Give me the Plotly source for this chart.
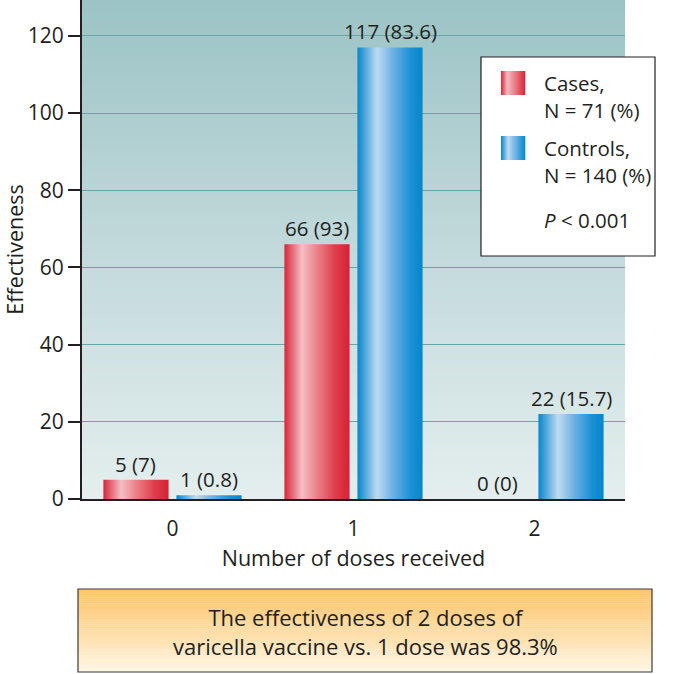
import plotly.graph_objects as go

# ---------------- data ----------------
doses = ["0", "1", "2"]
cases_n = [5, 66, 0]
cases_pct = ["7", "93", "0"]
controls_n = [1, 117, 22]
controls_pct = ["0.8", "83.6", "15.7"]
y_ticks = [0, 20, 40, 60, 80, 100, 120]
legend_cases = ["Cases,", "N = 71 (%)"]
legend_controls = ["Controls,", "N = 140 (%)"]
p_text = "<i>P</i> < 0.001"
note_lines = ["The effectiveness of 2 doses of", "varicella vaccine vs. 1 dose was 98.3%"]

# ---------------- style ----------------
FONT = "Open Sans"
TXT = "#231f20"
W, H = 680, 674
ML, MR, MT, MB = 82, 55, 0, 175
PW, PH = W - ML - MR, H - MT - MB
YMAX = 129.3

red_scale = [[0, "#d72638"], [0.27, "#f5bec3"], [0.5, "#eb818a"], [0.78, "#e03d4b"], [1, "#d42234"]]
blue_scale = [[0, "#0785cb"], [0.3, "#bddbf2"], [0.55, "#6cb0e1"], [0.82, "#1a91d5"], [1, "#0686cc"]]

bar_half = 0.18
bar_off = 0.2017


def hex2rgb(h):
    h = h.lstrip("#")
    return tuple(int(h[i:i + 2], 16) for i in (0, 2, 4))


def lerp_scale(scale, t):
    for (t0, c0), (t1, c1) in zip(scale[:-1], scale[1:]):
        if t0 <= t <= t1:
            f = 0 if t1 == t0 else (t - t0) / (t1 - t0)
            a, b = hex2rgb(c0), hex2rgb(c1)
            return "rgb(%d,%d,%d)" % tuple(round(a[i] + (b[i] - a[i]) * f) for i in range(3))
    return scale[-1][1]


def px_x(p):
    return (p - ML) / PW


def px_y(p):
    return (MT + PH - p) / PH


fig = go.Figure()

# bars as gradient-filled polygons
for series, vals, scale, off in [("Cases", cases_n, red_scale, -bar_off),
                                  ("Controls", controls_n, blue_scale, bar_off)]:
    for i, v in enumerate(vals):
        if v <= 0:
            continue
        c = i + off
        fig.add_trace(go.Scatter(
            x=[c - bar_half, c + bar_half, c + bar_half, c - bar_half, c - bar_half],
            y=[0, 0, v, v, 0],
            mode="lines", line=dict(width=0), fill="toself",
            fillgradient=dict(type="horizontal", colorscale=scale),
            showlegend=False, hoverinfo="skip", name=series))

annotations = []
# value labels
for vals, pcts, off in [(cases_n, cases_pct, -bar_off), (controls_n, controls_pct, bar_off)]:
    for i, (v, p) in enumerate(zip(vals, pcts)):
        annotations.append(dict(x=i + off, y=v, xref="x", yref="y", text="%d (%s)" % (v, p),
                                showarrow=False, xanchor="center", yanchor="bottom", yshift=0,
                                font=dict(family=FONT, size=20.5, color=TXT)))

shapes = []
# plot background gradient (below gridlines)
bg_scale = [[0, "#9bc3c5"], [0.5, "#c2d9db"], [1, "#e4eeee"]]
NS = 100
for k in range(NS):
    shapes.append(dict(type="rect", xref="paper", yref="paper", layer="below",
                       x0=0, x1=1, y0=1 - (k + 1) / NS, y1=1 - k / NS + 0.002,
                       fillcolor=lerp_scale(bg_scale, (k + 0.5) / NS), line=dict(width=0)))

# legend box
shapes.append(dict(type="rect", xref="paper", yref="paper",
                   x0=px_x(481), x1=px_x(655), y0=px_y(256), y1=px_y(57),
                   fillcolor="white", line=dict(color="#231f20", width=1.2)))
# legend swatches
for scale, (ya, yb) in [(red_scale, (71, 95)), (blue_scale, (136, 160))]:
    NSW = 25
    for k in range(NSW):
        xa = 501 + 24 * k / NSW
        xb = 501 + 24 * (k + 1) / NSW + 0.3
        shapes.append(dict(type="rect", xref="paper", yref="paper",
                           x0=px_x(xa), x1=px_x(xb), y0=px_y(yb), y1=px_y(ya),
                           fillcolor=lerp_scale(scale, (k + 0.5) / NSW), line=dict(width=0)))

# bottom note box gradient
note_scale = [[0, "#fcc36a"], [0.5, "#fedca3"], [1, "#fff6e6"]]
BX0, BX1, BY0, BY1 = 78, 652, 589, 672
NB = 40
for k in range(NB):
    ya = BY0 + (BY1 - BY0) * k / NB
    yb = BY0 + (BY1 - BY0) * (k + 1) / NB + 0.3
    shapes.append(dict(type="rect", xref="paper", yref="paper",
                       x0=px_x(BX0), x1=px_x(BX1), y0=px_y(yb), y1=px_y(ya),
                       fillcolor=lerp_scale(note_scale, (k + 0.5) / NB), line=dict(width=0)))
shapes.append(dict(type="rect", xref="paper", yref="paper",
                   x0=px_x(BX0), x1=px_x(BX1), y0=px_y(BY1), y1=px_y(BY0),
                   fillcolor="rgba(0,0,0,0)", line=dict(color="#3a3a3a", width=1.2)))

for txt, yy in [(legend_cases[0], 83), (legend_cases[1], 110),
                (legend_controls[0], 148), (legend_controls[1], 175), (p_text, 220)]:
    annotations.append(dict(text=txt, xref="paper", yref="paper", x=px_x(542), y=px_y(yy),
                            xanchor="left", yanchor="middle", showarrow=False,
                            font=dict(family=FONT, size=20.5, color=TXT)))
annotations.append(dict(text="<br>".join(note_lines), xref="paper", yref="paper",
                        x=px_x(365), y=px_y(631), xanchor="center", yanchor="middle",
                        align="center", showarrow=False,
                        font=dict(family=FONT, size=22, color=TXT)))

fig.update_layout(
    width=W, height=H,
    margin=dict(l=ML, r=MR, t=MT, b=MB),
    paper_bgcolor="white", plot_bgcolor="rgba(0,0,0,0)",
    font=dict(family=FONT, size=20, color=TXT),
    shapes=shapes, annotations=annotations,
    showlegend=False,
    xaxis=dict(range=[-0.5, 2.5], tickvals=[0, 1, 2], ticktext=doses,
               showgrid=False, zeroline=False, showline=True, linecolor="#231f20", linewidth=2,
               ticks="", ticklabelstandoff=10, automargin=False,
               tickfont=dict(family=FONT, size=21, color=TXT),
               title=dict(text="Number of doses received", standoff=10,
                          font=dict(family=FONT, size=21.5, color=TXT))),
    yaxis=dict(range=[0, YMAX], tickvals=y_ticks, showgrid=True, gridcolor="#6aa4a6", gridwidth=1,
               zeroline=False, showline=True, linecolor="#231f20", linewidth=2,
               ticks="outside", ticklen=12, tickwidth=1.5, tickcolor="#231f20", automargin=False,
               tickfont=dict(family=FONT, size=21, color=TXT),
               title=dict(text="Effectiveness", standoff=4,
                          font=dict(family=FONT, size=21.5, color=TXT))),
)

fig.write_html("out.html", config={"displayModeBar": False},
               post_script="document.body.style.margin='0';")
